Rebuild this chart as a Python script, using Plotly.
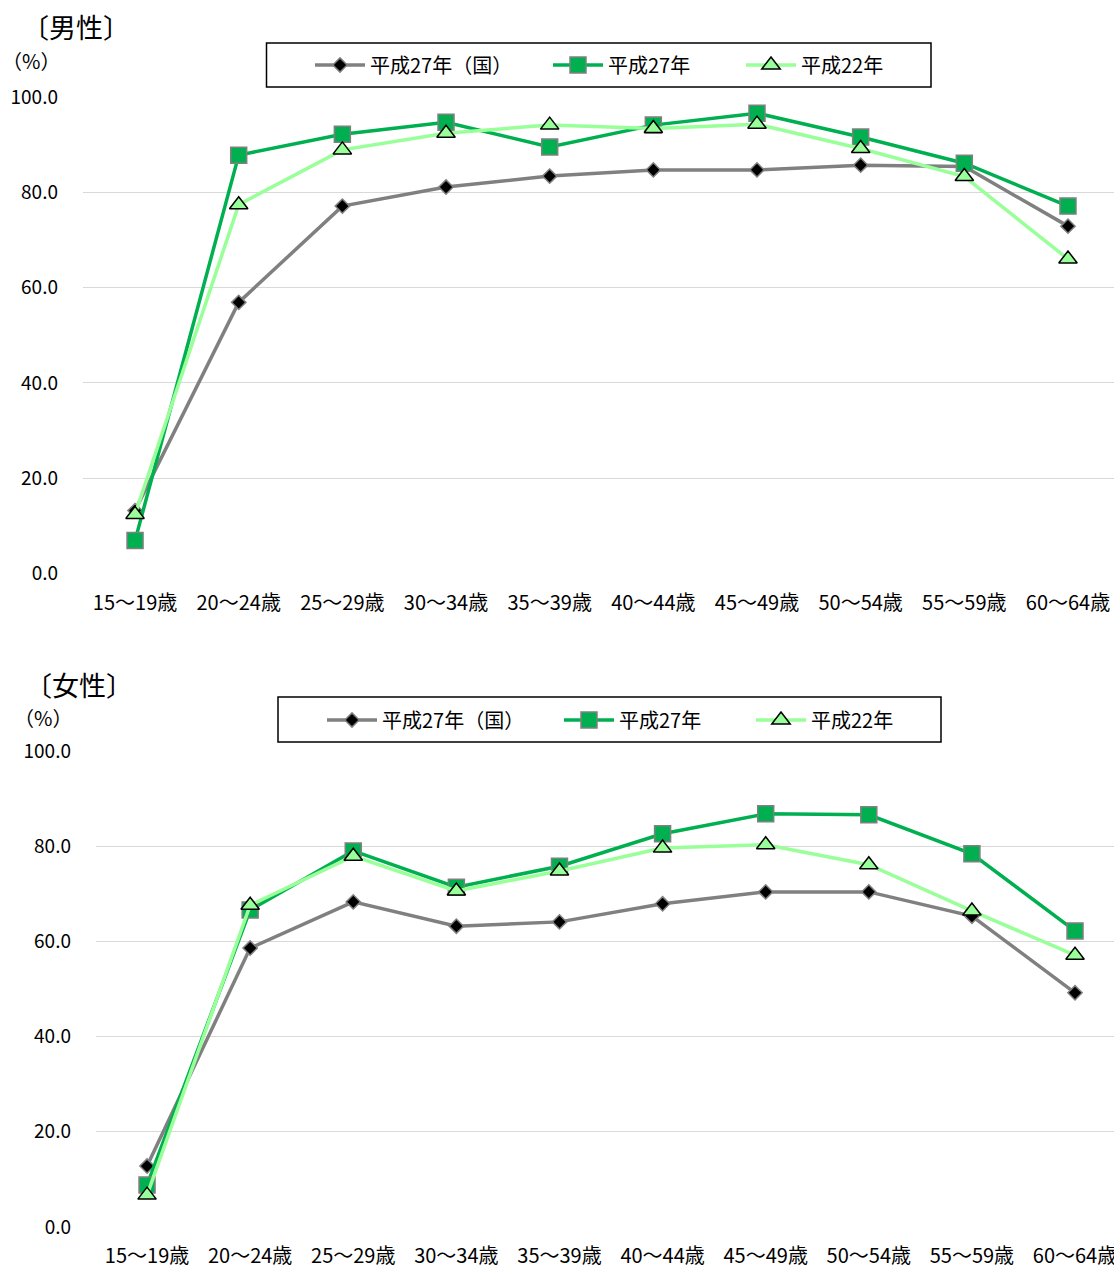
import plotly.graph_objects as go

# Age groups (x-axis categories)
age_groups = ["15～19歳", "20～24歳", "25～29歳", "30～34歳", "35～39歳",
              "40～44歳", "45～49歳", "50～54歳", "55～59歳", "60～64歳"]

# Labour force participation rate (%), men
male_h27_national = [13.2, 56.9, 77.1, 81.1, 83.4, 84.7, 84.7, 85.7, 85.4, 72.9]
male_h27 = [6.9, 87.8, 92.2, 94.7, 89.5, 94.1, 96.6, 91.6, 86.1, 77.1]
male_h22 = [12.4, 77.4, 88.9, 92.4, 94.1, 93.4, 94.3, 89.2, 83.3, 66.0]

# Labour force participation rate (%), women
female_h27_national = [12.8, 58.6, 68.3, 63.2, 64.1, 67.9, 70.4, 70.4, 65.3, 49.2]
female_h27 = [8.8, 66.6, 79.0, 71.4, 75.8, 82.6, 86.8, 86.6, 78.4, 62.2]
female_h22 = [6.7, 67.6, 77.9, 70.6, 74.8, 79.6, 80.3, 76.1, 66.4, 57.1]

series_names = ["平成27年（国）", "平成27年", "平成22年"]
y_ticks = [0, 20, 40, 60, 80, 100]

W, H = 1114, 1268
FONT = "Noto Sans CJK JP"

GREY = "#808080"
GREEN = "#00b050"
LIGHT = "#99ff99"

styles = [
    dict(line=dict(color=GREY, width=3.5),
         marker=dict(symbol="diamond", size=11, color="black",
                     line=dict(color=GREY, width=1.5))),
    dict(line=dict(color=GREEN, width=3.5),
         marker=dict(symbol="square", size=16, color=GREEN,
                     line=dict(color=GREY, width=1.5))),
    dict(line=dict(color=LIGHT, width=3.5),
         marker=dict(symbol="triangle-up", size=16, color=LIGHT,
                     line=dict(color="black", width=1.5))),
]


def fy(px):
    return 1 - px / H


def fx(px):
    return px / W


x_idx = list(range(len(age_groups)))

# Panel layout in pixels: legend entry starts, legend row centre, legend frame
panels = [
    dict(data=[male_h27_national, male_h27, male_h22], xa="x", ya="y",
         entry_x=[317, 555, 748], legend_y=65, frame=(266.5, 43, 931, 87)),
    dict(data=[female_h27_national, female_h27, female_h22], xa="x2", ya="y2",
         entry_x=[329, 566, 758], legend_y=720, frame=(278, 697, 941, 742)),
]

fig = go.Figure()
legend_layouts = {}
legend_no = 0
for p in panels:
    for name, vals, st, ex in zip(series_names, p["data"], styles, p["entry_x"]):
        legend_no += 1
        key = "legend" if legend_no == 1 else f"legend{legend_no}"
        fig.add_trace(go.Scatter(
            x=x_idx, y=vals, name=name, mode="lines+markers",
            line=st["line"], marker=st["marker"],
            xaxis=p["xa"], yaxis=p["ya"], legend=key,
            cliponaxis=False,
        ))
        legend_layouts[key] = dict(
            x=fx(ex - 7), y=fy(p["legend_y"]), xanchor="left", yanchor="middle",
            orientation="h", borderwidth=0, bgcolor="rgba(0,0,0,0)",
            font=dict(family=FONT, size=20, color="#000"), itemwidth=50,
        )
    x0, y0, x1, y1 = p["frame"]
    fig.add_shape(type="rect", xref="paper", yref="paper", layer="below",
                  x0=fx(x0), x1=fx(x1), y0=fy(y1), y1=fy(y0),
                  line=dict(color="black", width=1.5), fillcolor="rgba(0,0,0,0)")

axis_common = dict(
    tickvals=x_idx, ticktext=age_groups, showgrid=False, zeroline=False,
    showline=False, ticks="", automargin=False, ticklabelstandoff=15,
    ticklabeloverflow="allow",
    tickfont=dict(family=FONT, size=20, color="#000"),
)
yaxis_common = dict(
    range=[0, 100], tickvals=y_ticks, tickformat=".1f", showgrid=True,
    gridcolor="#d9d9d9", gridwidth=1.3, zeroline=False, showline=False,
    ticks="", ticklabelstandoff=24, automargin=False,
    tickfont=dict(family=FONT, size=19, color="#000"),
)

fig.update_layout(
    width=W, height=H,
    margin=dict(l=0, r=0, t=0, b=0, autoexpand=False),
    paper_bgcolor="white", plot_bgcolor="white",
    font=dict(family=FONT, color="#000"),
    showlegend=True,
    xaxis=dict(domain=[fx(83), 1], range=[-0.502, 9.444], anchor="y", **axis_common),
    yaxis=dict(domain=[fy(573.5), fy(97)], anchor="x", **yaxis_common),
    xaxis2=dict(domain=[fx(96), 1], range=[-0.495, 9.378], anchor="y2", **axis_common),
    yaxis2=dict(domain=[fy(1227), fy(751)], anchor="x2", **yaxis_common),
    **legend_layouts,
)

# Panel titles and unit labels
fig.add_annotation(text="〔男性〕", x=fx(20), y=fy(27), xref="paper", yref="paper",
                   xanchor="left", yanchor="middle", showarrow=False,
                   font=dict(family=FONT, size=27, color="#000"))
fig.add_annotation(text="（%）", x=fx(0), y=fy(60), xref="paper", yref="paper",
                   xanchor="left", yanchor="middle", showarrow=False,
                   font=dict(family=FONT, size=20, color="#000"))
fig.add_annotation(text="〔女性〕", x=fx(23), y=fy(684), xref="paper", yref="paper",
                   xanchor="left", yanchor="middle", showarrow=False,
                   font=dict(family=FONT, size=27, color="#000"))
fig.add_annotation(text="（%）", x=fx(12), y=fy(717), xref="paper", yref="paper",
                   xanchor="left", yanchor="middle", showarrow=False,
                   font=dict(family=FONT, size=20, color="#000"))

fig.write_html("out.html")
